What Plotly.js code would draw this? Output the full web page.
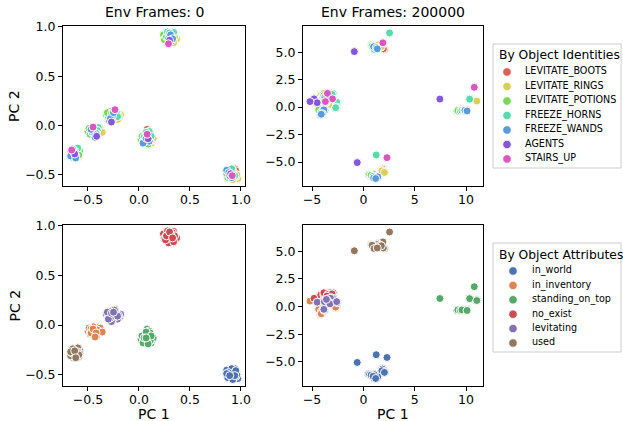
<!DOCTYPE html>
<html><head><meta charset="utf-8">
<script src="https://cdn.plot.ly/plotly-3.0.1.min.js"></script>
<style>html,body{margin:0;padding:0;background:#fff}</style>
</head><body>
<div id="chart" style="width:623px;height:421px"></div>
<script>
const identities = ['LEVITATE_BOOTS','LEVITATE_RINGS','LEVITATE_POTIONS','FREEZE_HORNS','FREEZE_WANDS','AGENTS','STAIRS_UP'];
const attributes = ['in_world','in_inventory','standing_on_top','no_exist','levitating','used'];
const frameTitles = ['Env Frames: 0','Env Frames: 200000'];
const xLabel = 'PC 1', yLabel = 'PC 2';
const identityLegendTitle = 'By Object Identities';
const attributeLegendTitle = 'By Object Attributes';

// one entry per object sample (grouped by attribute cluster)
const identityIdx = [
  0,0,1,1,2,2,3,3,4,4,5,6, 0,1,2,3,4,0,1,2,3,4,
  0,0,1,1,2,2,3,3,4,4,5,6, 0,1,2,3,4,0,1,2,3,4,
  0,0,1,1,2,2,3,3,4,4,5,6, 0,1,2,3,4,0,1,2,3,4,
  0,0,1,1,2,2,3,3,4,4,5,6, 0,1,2,3,4,0,1,2,3,4,
  0,0,1,1,2,2,3,3,4,4,5,6, 0,1,2,3,4,0,1,2,3,4,
  0,0,1,1,2,2,3,3,4,4,5,6, 0,1,2,3,4,0,1,2,3,4];
const attributeIdx = [
  3,3,3,3,3,3,3,3,3,3,3,3, 3,3,3,3,3,3,3,3,3,3,
  0,0,0,0,0,0,0,0,0,0,0,0, 0,0,0,0,0,0,0,0,0,0,
  2,2,2,2,2,2,2,2,2,2,2,2, 2,2,2,2,2,2,2,2,2,2,
  4,4,4,4,4,4,4,4,4,4,4,4, 4,4,4,4,4,4,4,4,4,4,
  1,1,1,1,1,1,1,1,1,1,1,1, 1,1,1,1,1,1,1,1,1,1,
  5,5,5,5,5,5,5,5,5,5,5,5, 5,5,5,5,5,5,5,5,5,5];
const pc1Frame0 = [
  0.27,0.31,0.36,0.37,0.24,0.26,0.34,0.32,0.29,0.32,0.30,0.29, 0.33,0.35,0.25,0.28,0.31,0.26,0.34,0.27,0.30,0.33,
  0.94,0.90,0.97,0.95,0.88,0.87,0.92,0.89,0.86,0.91,0.90,0.915, 0.93,0.96,0.87,0.91,0.88,0.95,0.92,0.86,0.94,0.89,
  0.08,0.06,0.12,0.13,0.02,0.04,0.10,0.05,0.06,0.10,0.09,0.08, 0.11,0.14,0.03,0.07,0.04,0.05,0.11,0.09,0.12,0.07,
  -0.28,-0.24,-0.19,-0.21,-0.32,-0.30,-0.22,-0.25,-0.26,-0.29,-0.27,-0.235, -0.23,-0.18,-0.31,-0.24,-0.28,-0.30,-0.20,-0.27,-0.21,-0.25,
  -0.42,-0.45,-0.37,-0.39,-0.50,-0.48,-0.40,-0.43,-0.46,-0.44,-0.415,-0.45, -0.41,-0.38,-0.49,-0.41,-0.47,-0.47,-0.36,-0.45,-0.42,-0.43,
  -0.62,-0.60,-0.59,-0.61,-0.58,-0.65,-0.60,-0.64,-0.67,-0.64,-0.63,-0.66, -0.60,-0.58,-0.66,-0.62,-0.65,-0.67,-0.61,-0.59,-0.63,-0.62];
const pc2Frame0 = [
  0.94,0.90,0.86,0.88,0.92,0.89,0.945,0.91,0.88,0.86,0.865,0.83, 0.93,0.90,0.87,0.95,0.92,0.86,0.84,0.90,0.94,0.88,
  -0.44,-0.48,-0.54,-0.52,-0.47,-0.50,-0.46,-0.52,-0.455,-0.53,-0.49,-0.51, -0.47,-0.50,-0.53,-0.44,-0.48,-0.46,-0.55,-0.49,-0.51,-0.51,
  -0.04,-0.10,-0.18,-0.15,-0.14,-0.17,-0.06,-0.12,-0.15,-0.16,-0.135,-0.09, -0.08,-0.13,-0.11,-0.07,-0.18,-0.13,-0.16,-0.19,-0.11,-0.13,
  0.14,0.12,0.08,0.06,0.11,0.08,0.13,0.07,0.095,0.05,0.035,0.16, 0.10,0.11,0.13,0.15,0.07,0.06,0.10,0.12,0.09,0.13,
  -0.03,-0.06,-0.05,-0.08,-0.06,-0.09,-0.02,-0.10,-0.07,-0.09,-0.11,-0.017, -0.07,-0.03,-0.03,-0.05,-0.04,-0.08,-0.07,-0.04,-0.08,-0.12,
  -0.24,-0.30,-0.32,-0.27,-0.26,-0.30,-0.23,-0.33,-0.31,-0.27,-0.29,-0.25, -0.27,-0.29,-0.28,-0.31,-0.24,-0.27,-0.33,-0.30,-0.26,-0.33];
const pc1Frame200k = [
  -3.6,-3.3,-4.2,-3.9,-3.8,-3.4,-2.9,-3.1,-3.7,-3.5,-4.8,-3.5, -3.65,-4.15,-3.85,-2.95,-3.75,-3.25,-3.85,-3.45,-3.05,-3.55,
  1.9,1.0,1.75,2.1,0.5,0.8,1.25,1.1,1.35,1.0,-0.6,2.3, 1.85,1.8,0.6,1.2,1.4,1.05,2.05,0.75,0.95,1.2,
  9.6,10.1,11.0,10.9,9.1,9.3,10.3,9.7,10.0,9.8,7.45,10.8, 9.5,10.95,9.2,10.35,9.9,9.9,11.05,9.45,9.6,10.1,
  -3.1,-3.6,-3.3,-3.4,-3.9,-3.5,-2.5,-2.7,-3.8,-3.9,-4.5,-3.0, -3.2,-3.3,-3.8,-2.55,-3.75,-3.5,-3.25,-3.6,-2.6,-3.85,
  -4.3,-3.9,-4.0,-3.6,-4.4,-4.0,-2.7,-2.6,-4.2,-4.0,-5.2,-3.7, -4.2,-3.95,-4.35,-2.65,-4.15,-4.1,-3.65,-4.1,-2.7,-4.1,
  2.05,1.6,1.4,1.7,0.75,0.9,2.55,1.1,1.3,1.0,-0.88,1.9, 1.95,1.45,0.8,1.15,1.25,1.65,1.75,0.85,1.05,1.35];
const pc2Frame200k = [
  1.1,1.2,1.1,1.2,1.0,1.15,1.2,1.1,0.95,1.0,0.75,1.25, 1.15,1.05,1.05,1.25,0.9,1.25,1.25,1.1,1.15,0.95,
  -5.6,-6.2,-5.75,-5.9,-6.1,-6.25,-4.35,-6.3,-6.4,-6.45,-5.05,-4.6, -5.65,-5.8,-6.15,-6.35,-6.35,-6.15,-5.95,-6.2,-6.3,-6.5,
  -0.2,-0.25,0.57,0.65,-0.36,-0.3,0.78,-0.35,-0.34,-0.3,0.73,1.8, -0.25,0.6,-0.3,0.72,-0.28,-0.3,0.55,-0.35,-0.3,-0.35,
  0.8,0.6,0.3,0.2,0.5,0.7,0.4,0.5,-0.35,-0.2,0.4,0.75, 0.75,0.35,0.45,0.35,-0.3,0.55,0.25,0.65,0.45,-0.25,
  0.2,0.3,0.9,0.4,-0.2,-0.5,-0.1,0.0,-0.75,-0.6,0.5,0.5, 0.25,0.85,-0.25,-0.05,-0.7,0.35,0.45,-0.45,-0.05,-0.65,
  5.25,5.6,5.7,5.45,5.65,5.5,6.75,5.3,5.35,5.5,5.05,5.85, 5.3,5.65,5.6,5.35,5.4,5.55,5.5,5.55,5.25,5.3];

const identityColors = ['#db5f57','#dbd057','#75db57','#57dbaa','#579bdb','#8557db','#db57c0'];
const attributeColors = ['#4c72b0','#dd8452','#55a868','#c44e52','#8172b3','#937860'];

const FONT = 'DejaVu Sans, Arial, sans-serif';
const W = 623, H = 421;
const px = v => v / W;
const py = v => 1 - v / H;

const traces = [];
function addGroup(groupIdx, names, colors, xs, ys, xa, ya) {
  names.forEach((name, k) => {
    const sel = groupIdx.map((g, i) => g === k ? i : -1).filter(i => i >= 0);
    traces.push({
      type: 'scatter', mode: 'markers', name: name, showlegend: false,
      x: sel.map(i => xs[i]), y: sel.map(i => ys[i]),
      xaxis: xa, yaxis: ya,
      marker: {color: colors[k], size: 8, line: {color: '#ffffff', width: 1}},
      hoverinfo: 'skip'
    });
  });
}
addGroup(identityIdx, identities, identityColors, pc1Frame0, pc2Frame0, 'x', 'y');
addGroup(identityIdx, identities, identityColors, pc1Frame200k, pc2Frame200k, 'x2', 'y2');
addGroup(attributeIdx, attributes, attributeColors, pc1Frame0, pc2Frame0, 'x3', 'y3');
addGroup(attributeIdx, attributes, attributeColors, pc1Frame200k, pc2Frame200k, 'x4', 'y4');

// legend panels drawn on categorical helper axes
function addLegend(names, colors, xa, ya) {
  traces.push({
    type: 'scatter', mode: 'markers', showlegend: false, cliponaxis: false,
    x: names.map(() => 0), y: names, xaxis: xa, yaxis: ya,
    marker: {color: colors, size: 8.5, line: {color: '#ffffff', width: 0.8}},
    hoverinfo: 'skip'
  });
  traces.push({
    type: 'scatter', mode: 'text', showlegend: false, cliponaxis: false,
    x: names.map(() => 1), y: names, xaxis: xa, yaxis: ya,
    text: names, textposition: 'middle right',
    textfont: {family: FONT, size: 9.6, color: '#000'},
    hoverinfo: 'skip'
  });
}
addLegend(identities, identityColors, 'x5', 'y5');
addLegend(attributes, attributeColors, 'x6', 'y6');

function ax(domain, range, dtick, fmt, anchor, isX) {
  const a = {
    domain: domain, range: range, dtick: dtick, tick0: 0, tickformat: fmt,
    anchor: anchor, showline: true, mirror: true, linecolor: '#000', linewidth: 1,
    ticks: 'outside', ticklen: 4, tickwidth: 1, tickcolor: '#000',
    showgrid: false, zeroline: false,
    tickfont: {family: FONT, size: 12.5, color: '#000'}
  };
  if (isX) a.ticklabelstandoff = -2;
  return a;
}
const colL = [px(63), px(245)], colR = [px(303), px(483)];
const rowT = [py(186), py(26)], rowB = [py(386), py(225)];
const xrL = [-0.745, 1.04], yrL = [-0.615, 1.01];
const xrR = [-5.88, 11.65], yrR = [-7.18, 7.38];

function legAx(domain, n, anchor, isY, cats) {
  const a = {domain: domain, anchor: anchor, visible: false, fixedrange: true};
  if (isY) { a.type = 'category'; a.categoryorder = 'array'; a.categoryarray = cats; a.range = [n - 0.5, -0.5]; }
  else { a.range = [0, 1]; }
  return a;
}

const titleFont = {family: FONT, size: 14, color: '#000'};
function label(text, x, y, angle) {
  return {text: text, xref: 'paper', yref: 'paper', x: x, y: y, xanchor: 'center', yanchor: 'middle',
          showarrow: false, textangle: angle || 0, font: titleFont, borderpad: 0};
}

const layout = {
  width: W, height: H, margin: {l: 0, r: 0, t: 0, b: 0},
  paper_bgcolor: '#fff', plot_bgcolor: '#fff',
  font: {family: FONT, color: '#000'},
  showlegend: false,
  xaxis: ax(colL, xrL, 0.5, '.1f', 'y', true),
  yaxis: ax(rowT, yrL, 0.5, '.1f', 'x'),
  xaxis2: ax(colR, xrR, 5, 'd', 'y2', true),
  yaxis2: ax(rowT, yrR, 2.5, '.1f', 'x2'),
  xaxis3: ax(colL, xrL, 0.5, '.1f', 'y3', true),
  yaxis3: ax(rowB, yrL, 0.5, '.1f', 'x3'),
  xaxis4: ax(colR, xrR, 5, 'd', 'y4', true),
  yaxis4: ax(rowB, yrR, 2.5, '.1f', 'x4'),
  xaxis5: legAx([px(507), px(525)], 0, 'y5', false),
  yaxis5: legAx([py(166.25), py(64.75)], identities.length, 'x5', true, identities),
  xaxis6: legAx([px(513), px(532)], 0, 'y6', false),
  yaxis6: legAx([py(350.2), py(263.8)], attributes.length, 'x6', true, attributes),
  shapes: [
    {type: 'rect', xref: 'paper', yref: 'paper', x0: px(493), x1: px(621), y0: py(168), y1: py(44),
     line: {color: '#cccccc', width: 1}, fillcolor: 'rgba(255,255,255,0.8)', layer: 'below'},
    {type: 'rect', xref: 'paper', yref: 'paper', x0: px(493), x1: px(621), y0: py(352), y1: py(243),
     line: {color: '#cccccc', width: 1}, fillcolor: 'rgba(255,255,255,0.8)', layer: 'below'}
  ],
  annotations: [
    label(frameTitles[0], (colL[0] + colL[1]) / 2, py(12.5)),
    label(frameTitles[1], (colR[0] + colR[1]) / 2, py(12.5)),
    label(yLabel, px(14), py(106), -90),
    label(yLabel, px(14), py(305.5), -90),
    label(xLabel, (colL[0] + colL[1]) / 2, py(414)),
    label(xLabel, (colR[0] + colR[1]) / 2, py(414)),
    {text: identityLegendTitle, xref: 'paper', yref: 'paper', x: px(497), y: py(55),
     xanchor: 'left', yanchor: 'middle', showarrow: false, font: {family: FONT, size: 12.3, color: '#000'}},
    {text: attributeLegendTitle, xref: 'paper', yref: 'paper', x: px(497), y: py(255),
     xanchor: 'left', yanchor: 'middle', showarrow: false, font: {family: FONT, size: 12.3, color: '#000'}}
  ]
};

Plotly.newPlot('chart', traces, layout, {staticPlot: true, displayModeBar: false});
</script>
</body></html>
